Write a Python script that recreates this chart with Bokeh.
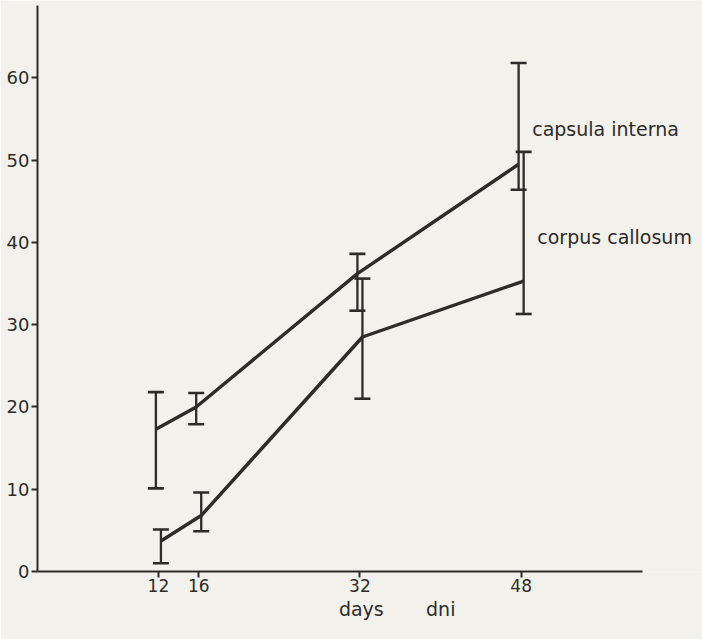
from bokeh.plotting import figure
from bokeh.models import FixedTicker, Label, ColumnDataSource, Whisker, Range1d
from bokeh.transform import dodge
from bokeh.embed import file_html
from bokeh.resources import INLINE

# data
days = [12, 16, 32, 48]
x_ticks = [12, 16, 32, 48]
y_ticks = [0, 10, 20, 30, 40, 50, 60]

capsula_mean = [17.3, 20.0, 36.2, 49.5]
capsula_upper = [21.8, 21.7, 38.6, 61.8]
capsula_lower = [10.1, 17.9, 31.7, 46.4]

corpus_mean = [3.7, 6.8, 28.5, 35.3]
corpus_upper = [5.1, 9.6, 35.6, 51.0]
corpus_lower = [1.0, 4.9, 21.0, 31.3]

BG = "#f2f1ec"
INK = "#2e2b29"
FONT = "DejaVu Sans"
NB = "\u00a0"

p = figure(width=702, height=639, output_backend="svg", toolbar_location=None,
           x_range=Range1d(0, 66.0), y_range=Range1d(0, 69.4),
           min_border_left=37, min_border_right=0, min_border_top=0, min_border_bottom=68)
p.background_fill_color = BG
p.border_fill_color = BG
p.outline_line_color = None
p.xgrid.visible = False
p.ygrid.visible = False

src_c = ColumnDataSource(dict(x=days, m=capsula_mean, u=capsula_upper, l=capsula_lower))
src_p = ColumnDataSource(dict(x=days, m=corpus_mean, u=corpus_upper, l=corpus_lower))

for src, off in ((src_c, -0.25), (src_p, 0.25)):
    p.line(x=dodge("x", off), y="m", source=src, line_color=INK, line_width=3.4)
    w = Whisker(base=dodge("x", off), upper="u", lower="l", source=src,
                line_color=INK, line_width=2.3)
    for h in (w.upper_head, w.lower_head):
        h.size = 16
        h.line_color = INK
        h.line_width = 2.6
    p.add_layout(w)

for ax in (p.xaxis[0], p.yaxis[0]):
    ax.axis_line_color = INK
    ax.axis_line_width = 2
    ax.major_tick_line_color = INK
    ax.major_tick_line_width = 2
    ax.major_tick_out = 6
    ax.major_tick_in = 0
    ax.minor_tick_line_color = None
    ax.major_label_text_font = FONT
    ax.major_label_text_color = INK

p.xaxis.major_label_text_font_size = "17px"
p.yaxis.major_label_text_font_size = "18px"
p.xaxis.ticker = FixedTicker(ticks=x_ticks)
p.yaxis.ticker = FixedTicker(ticks=y_ticks)
p.xaxis.bounds = (0, 60)
p.yaxis.bounds = (0, 68.8)
p.xaxis.major_label_standoff = 1
p.yaxis.major_label_standoff = 2

p.xaxis.axis_label = NB * 9 + "days" + NB * 7 + "dni"
p.xaxis.axis_label_text_font = FONT
p.xaxis.axis_label_text_font_style = "normal"
p.xaxis.axis_label_text_font_size = "19px"
p.xaxis.axis_label_text_color = INK
p.xaxis.axis_label_standoff = 3

p.add_layout(Label(x=49.1, y=53.8, text="capsula interna", text_font=FONT,
                   text_font_size="19px", text_color=INK, text_baseline="middle"))
p.add_layout(Label(x=49.6, y=40.6, text="corpus callosum", text_font=FONT,
                   text_font_size="19px", text_color=INK, text_baseline="middle"))

open("out.html", "w").write(file_html(p, INLINE))
